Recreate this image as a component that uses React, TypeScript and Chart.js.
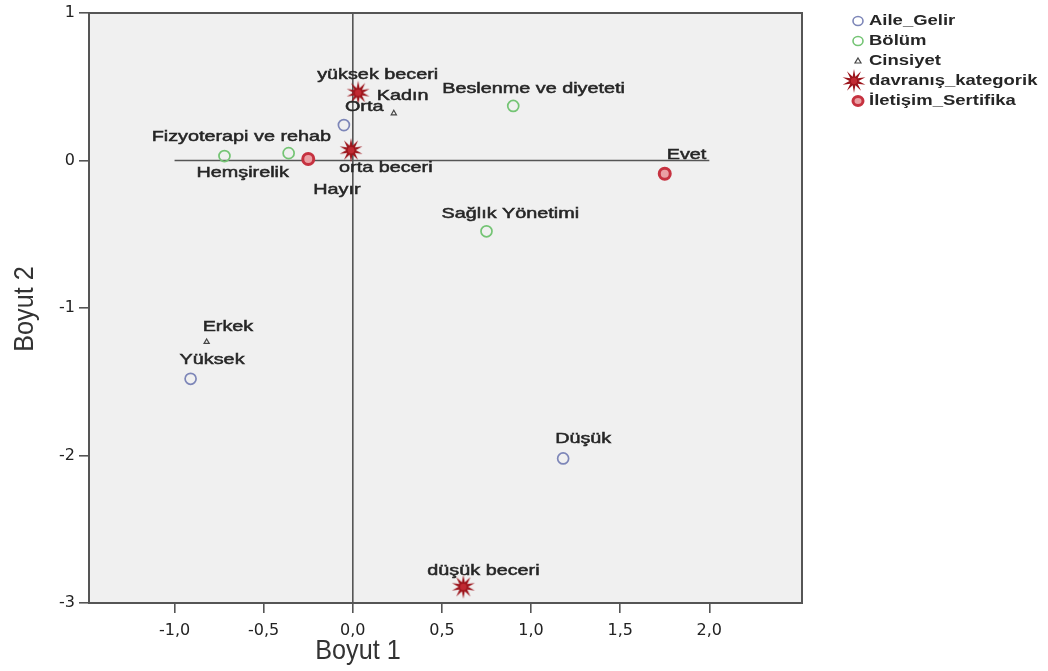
import React, { useEffect, useRef } from "react";
import { Chart, registerables } from "chart.js";

Chart.register(...registerables);

// ---- data ----
const seriesNames = ["Aile_Gelir", "Bölüm", "Cinsiyet", "davranış_kategorik", "İletişim_Sertifika"];

const aileLabels = ["Orta", "Yüksek", "Düşük"];
const aileX = [-0.05, -0.91, 1.18];
const aileY = [0.24, -1.48, -2.02];

const bolumLabels = ["Beslenme ve diyeteti", "Fizyoterapi ve rehab", "Hemşirelik", "Sağlık Yönetimi"];
const bolumX = [0.9, -0.36, -0.72, 0.75];
const bolumY = [0.37, 0.05, 0.03, -0.48];

const cinsiyetLabels = ["Kadın", "Erkek"];
const cinsiyetX = [0.23, -0.82];
const cinsiyetY = [0.32, -1.23];

const davranisLabels = ["yüksek beceri", "orta beceri", "düşük beceri"];
const davranisX = [0.03, -0.01, 0.62];
const davranisY = [0.46, 0.07, -2.89];

const iletisimLabels = ["Evet", "Hayır"];
const iletisimX = [1.75, -0.25];
const iletisimY = [-0.09, 0.01];

const xTicks = [-1, -0.5, 0, 0.5, 1, 1.5, 2];
const yTicks = [-3, -2, -1, 0, 1];
const xTitle = "Boyut 1";
const yTitle = "Boyut 2";

// ---- label placement (pixel offsets of text left/middle relative to the point) ----
const labelOffsets: number[][][] = [
  [[1, -18], [-11, -19], [-8, -20]],
  [[-71, -17], [-137, -16], [-28, 17], [-45, -17]],
  [[-17, -17], [-4, -15]],
  [[-41, -18], [-12, 18], [-36, -16]],
  [[2, -19], [5, 31]],
];

const TEXT_COLOR = "#262626";
const LINE_COLOR = "#555";

function makeStar(outer: number, inner: number, spikes: number) {
  const size = Math.ceil(outer * 2 + 2);
  const c = document.createElement("canvas");
  c.width = size;
  c.height = size;
  const ctx = c.getContext("2d")!;
  const cx = size / 2;
  const cy = size / 2;
  ctx.beginPath();
  for (let i = 0; i < spikes * 2; i++) {
    const r = i % 2 === 0 ? outer : inner;
    const a = (Math.PI * i) / spikes - Math.PI / 2;
    const px = cx + r * Math.cos(a);
    const py = cy + r * Math.sin(a);
    if (i === 0) ctx.moveTo(px, py);
    else ctx.lineTo(px, py);
  }
  ctx.closePath();
  ctx.fillStyle = "#9c141b";
  ctx.fill();
  ctx.beginPath();
  ctx.arc(cx, cy, inner * 0.7, 0, Math.PI * 2);
  ctx.fillStyle = "#c02a32";
  ctx.fill();
  return c;
}

function drawStretched(ctx: CanvasRenderingContext2D, text: string, x: number, y: number, sx: number, stroke = 0) {
  ctx.save();
  ctx.translate(x, y);
  ctx.scale(sx, 1);
  ctx.fillText(text, 0, 0);
  if (stroke > 0) {
    ctx.lineWidth = stroke;
    ctx.strokeStyle = ctx.fillStyle as string;
    ctx.strokeText(text, 0, 0);
  }
  ctx.restore();
}

export default function App() {
  const ref = useRef<HTMLCanvasElement | null>(null);

  useEffect(() => {
    if (!ref.current) return;
    const star = makeStar(12, 4.8, 10);
    const legendStar = makeStar(12, 4.5, 10);
    const allLabels = [aileLabels, bolumLabels, cinsiyetLabels, davranisLabels, iletisimLabels];

    const toPts = (xs: number[], ys: number[]) => xs.map((x, i) => ({ x, y: ys[i] }));

    const customPlugin = {
      id: "custom",
      beforeDraw(chart: any) {
        const { ctx, chartArea: a } = chart;
        ctx.save();
        ctx.fillStyle = "#f0f0f0";
        ctx.fillRect(a.left, a.top, a.right - a.left, a.bottom - a.top);
        ctx.restore();
      },
      beforeDatasetsDraw(chart: any) {
        const { ctx, chartArea: a, scales } = chart;
        const xs = scales.x;
        const ys = scales.y;
        ctx.save();
        ctx.strokeStyle = LINE_COLOR;
        ctx.lineWidth = 2;
        ctx.strokeRect(a.left, a.top, a.right - a.left, a.bottom - a.top);
        ctx.lineWidth = 1.6;
        const x0 = xs.getPixelForValue(0);
        ctx.beginPath();
        ctx.moveTo(x0, a.top);
        ctx.lineTo(x0, a.bottom);
        ctx.stroke();
        const y0 = ys.getPixelForValue(0);
        ctx.beginPath();
        ctx.moveTo(xs.getPixelForValue(xTicks[0]), y0);
        ctx.lineTo(xs.getPixelForValue(xTicks[xTicks.length - 1]), y0);
        ctx.stroke();
        ctx.restore();
      },
      afterDatasetsDraw(chart: any) {
        const { ctx } = chart;
        ctx.save();
        ctx.fillStyle = TEXT_COLOR;
        ctx.font = '15px "Liberation Sans", Arial, sans-serif';
        ctx.textBaseline = "middle";
        ctx.textAlign = "left";
        chart.data.datasets.forEach((ds: any, di: number) => {
          const meta = chart.getDatasetMeta(di);
          meta.data.forEach((el: any, i: number) => {
            const off = labelOffsets[di][i];
            drawStretched(ctx, allLabels[di][i], el.x + off[0], el.y + off[1], 1.32, 0.5);
          });
        });
        ctx.restore();
      },
      afterDraw(chart: any) {
        const { ctx } = chart;
        ctx.save();
        // axis titles
        ctx.fillStyle = "#333";
        ctx.font = '28px "Liberation Sans Narrow", "Liberation Sans", Arial, sans-serif';
        ctx.textAlign = "center";
        ctx.textBaseline = "middle";
        drawStretched(ctx, xTitle, 358, 651, 0.9);
        ctx.save();
        ctx.translate(25, 309);
        ctx.rotate(-Math.PI / 2);
        ctx.scale(0.9, 1);
        ctx.fillText(yTitle, 0, 0);
        ctx.restore();

        // legend
        const lx = 858;
        const tx = 869;
        const ly0 = 21;
        const step = 20;
        ctx.font = 'bold 14px "Liberation Sans", Arial, sans-serif';
        ctx.textAlign = "left";
        seriesNames.forEach((name, i) => {
          const y = ly0 + i * step;
          const ds: any = chart.data.datasets[i];
          ctx.save();
          if (i === 0 || i === 1) {
            ctx.beginPath();
            ctx.ellipse(lx, y, 5, 4.5, 0, 0, Math.PI * 2);
            ctx.strokeStyle = ds.borderColor;
            ctx.lineWidth = 1.6;
            ctx.stroke();
          } else if (i === 2) {
            ctx.beginPath();
            ctx.moveTo(lx, y - 3);
            ctx.lineTo(lx + 3, y + 2);
            ctx.lineTo(lx - 3, y + 2);
            ctx.closePath();
            ctx.strokeStyle = ds.borderColor;
            ctx.lineWidth = 1.2;
            ctx.stroke();
          } else if (i === 3) {
            ctx.drawImage(legendStar, lx - 4 - legendStar.width / 2, y - legendStar.height / 2);
          } else {
            ctx.beginPath();
            ctx.ellipse(lx, y, 5, 4.5, 0, 0, Math.PI * 2);
            ctx.fillStyle = ds.backgroundColor;
            ctx.fill();
            ctx.strokeStyle = ds.borderColor;
            ctx.lineWidth = 3;
            ctx.stroke();
          }
          ctx.restore();
          ctx.fillStyle = TEXT_COLOR;
          drawStretched(ctx, name, tx, y, 1.32);
        });
        ctx.restore();
      },
    };

    const chart = new Chart(ref.current, {
      type: "scatter",
      data: {
        datasets: [
          {
            label: seriesNames[0],
            data: toPts(aileX, aileY),
            pointStyle: "circle",
            pointRadius: 5.5,
            borderColor: "#7d86b8",
            backgroundColor: "rgba(0,0,0,0)",
            borderWidth: 1.7,
          },
          {
            label: seriesNames[1],
            data: toPts(bolumX, bolumY),
            pointStyle: "circle",
            pointRadius: 5.5,
            borderColor: "#74c474",
            backgroundColor: "rgba(0,0,0,0)",
            borderWidth: 1.7,
          },
          {
            label: seriesNames[2],
            data: toPts(cinsiyetX, cinsiyetY),
            pointStyle: "triangle",
            pointRadius: 3,
            borderColor: "#444",
            backgroundColor: "rgba(0,0,0,0)",
            borderWidth: 1.2,
          },
          {
            label: seriesNames[3],
            data: toPts(davranisX, davranisY),
            pointStyle: star as any,
            pointRadius: 12,
            borderColor: "#9c141b",
            backgroundColor: "#9c141b",
          },
          {
            label: seriesNames[4],
            data: toPts(iletisimX, iletisimY),
            pointStyle: "circle",
            pointRadius: 5.5,
            borderColor: "#c63240",
            backgroundColor: "#eaa0a4",
            borderWidth: 3,
          },
        ],
      },
      options: {
        animation: false,
        responsive: true,
        maintainAspectRatio: false,
        layout: { padding: { top: 10, right: 246, left: 0, bottom: 0 } },
        plugins: { legend: { display: false }, tooltip: { enabled: false } },
        scales: {
          x: {
            type: "linear",
            min: -1.48,
            max: 2.52,
            afterBuildTicks: (s: any) => {
              s.ticks = xTicks.map((v) => ({ value: v }));
            },
            afterFit: (s: any) => {
              s.height = 68;
            },
            ticks: {
              callback: (v: any) => Number(v).toFixed(1).replace(".", ","),
              font: { family: '"DejaVu Sans", sans-serif', size: 16 },
              color: "#222",
              padding: 8,
              autoSkip: false,
              maxRotation: 0,
            },
            grid: { drawOnChartArea: false, drawTicks: true, tickLength: 10, color: LINE_COLOR, lineWidth: 1.6 },
            border: { display: true, color: LINE_COLOR, width: 2 },
          },
          y: {
            type: "linear",
            min: -3,
            max: 1,
            afterBuildTicks: (s: any) => {
              s.ticks = yTicks.map((v) => ({ value: v }));
            },
            afterFit: (s: any) => {
              s.width = 89;
              s.paddingTop = 0;
              s.paddingBottom = 0;
            },
            ticks: {
              callback: (v: any) => String(v),
              font: { family: '"DejaVu Sans", sans-serif', size: 16 },
              color: "#222",
              padding: 4,
              autoSkip: false,
            },
            grid: { drawOnChartArea: false, drawTicks: true, tickLength: 10, color: LINE_COLOR, lineWidth: 1.6 },
            border: { display: true, color: LINE_COLOR, width: 2 },
          },
        },
      },
      plugins: [customPlugin],
    } as any);

    return () => chart.destroy();
  }, []);

  return (
    <div style={{ position: "absolute", left: 0, top: 0, width: 1048, height: 671, background: "#fff" }}>
      <canvas ref={ref} />
    </div>
  );
}
